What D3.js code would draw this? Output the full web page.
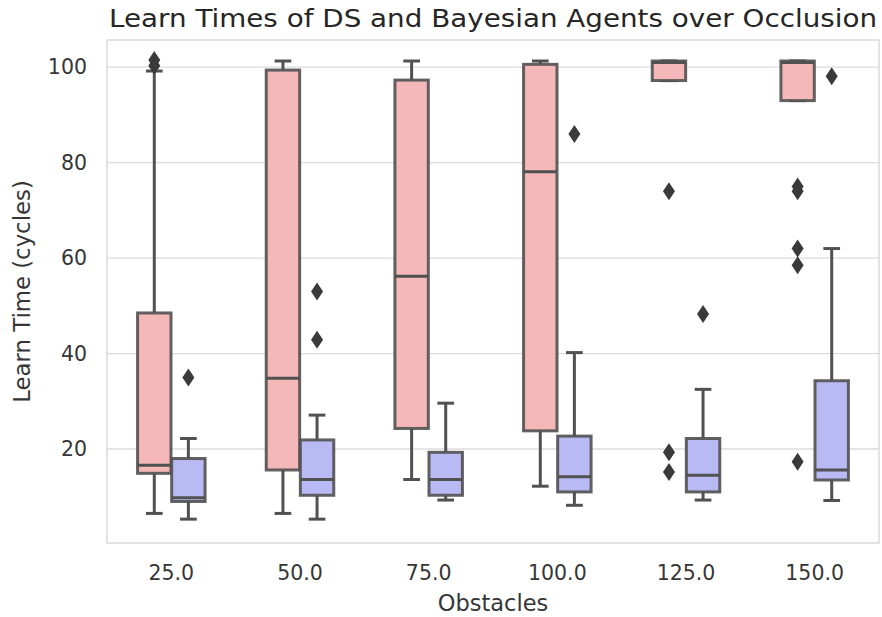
<!DOCTYPE html>
<html>
<head>
<meta charset="utf-8">
<script src="https://cdn.jsdelivr.net/npm/d3@7"></script>
<style>
  body { margin: 0; background: #fff; }
  text { font-family: "DejaVu Sans", sans-serif; }
</style>
</head>
<body>
<svg id="chart" width="882" height="617"></svg>
<script>
// ---- data ----
const categories = ["25.0", "50.0", "75.0", "100.0", "125.0", "150.0"];
const seriesNames = ["DS", "Bayesian"];
const yTicks = [20, 40, 60, 80, 100];

// DS agent
const dsQ1      = [14.9, 15.6, 24.3, 23.8, 97.2, 93.0];
const dsMedian  = [16.6, 34.8, 56.2, 78.1, 101.0, 101.0];
const dsQ3      = [48.5, 99.4, 97.3, 100.6, 101.3, 101.3];
const dsLow     = [6.5, 6.5, 13.6, 12.2, 97.2, 93.0];
const dsHigh    = [99.2, 101.3, 101.3, 101.3, 101.3, 101.3];
const dsOut     = [[100.3, 101.5], [], [], [], [74.0, 19.3, 15.2], [75.0, 74.0, 62.0, 58.5, 17.3]];

// Bayesian agent
const bayQ1     = [9.0, 10.3, 10.3, 11.0, 11.0, 13.5];
const bayMedian = [9.8, 13.6, 13.6, 14.2, 14.5, 15.6];
const bayQ3     = [18.0, 21.9, 19.3, 22.7, 22.2, 34.3];
const bayLow    = [5.3, 5.3, 9.3, 8.2, 9.3, 9.2];
const bayHigh   = [22.2, 27.1, 29.6, 40.2, 32.5, 62.0];
const bayOut    = [[35.0], [53.0, 42.9], [], [86.0], [48.3], [98.1]];

// ---- build table ----
const stats = [
  {q1: dsQ1, med: dsMedian, q3: dsQ3, lo: dsLow, hi: dsHigh, out: dsOut},
  {q1: bayQ1, med: bayMedian, q3: bayQ3, lo: bayLow, hi: bayHigh, out: bayOut}
];
const boxes = [];
seriesNames.forEach((s, si) => {
  categories.forEach((c, ci) => {
    const st = stats[si];
    boxes.push({series: s, cat: c, q1: st.q1[ci], med: st.med[ci], q3: st.q3[ci],
                lo: st.lo[ci], hi: st.hi[ci], out: st.out[ci]});
  });
});

// ---- layout ----
const svg = d3.select("#chart");
const pLeft = 107, pRight = 879, pTop = 40, pBottom = 543;
const fills = {DS: "#f4b8b8", Bayesian: "#b9b9f4"};
const lineCol = "#515151";
const textCol = "#363636";

const x = d3.scaleBand().domain(categories).range([pLeft, pRight]).padding(0);
const hue = d3.scaleBand().domain(seriesNames).range([-x.bandwidth() * 0.265, x.bandwidth() * 0.265]);
const y = d3.scaleLinear().domain([0.3, 105.7]).range([pBottom, pTop]);

// grid
svg.append("g").selectAll("line").data(yTicks).join("line")
  .attr("x1", pLeft).attr("x2", pRight)
  .attr("y1", d => y(d)).attr("y2", d => y(d))
  .attr("stroke", "#dcdcdc").attr("stroke-width", 1.3);

// frame
svg.append("rect").attr("x", pLeft).attr("y", pTop)
  .attr("width", pRight - pLeft).attr("height", pBottom - pTop)
  .attr("fill", "none").attr("stroke", "#d4d4d4").attr("stroke-width", 1.3);

// axes (tick labels via d3 axes)
const yAxis = svg.append("g").attr("transform", `translate(${pLeft},0)`)
  .call(d3.axisLeft(y).tickValues(yTicks).tickSize(0).tickPadding(20));
yAxis.select(".domain").remove();
yAxis.selectAll("text").attr("font-size", 20.5).attr("fill", textCol)
  .attr("font-family", "DejaVu Sans");

const xAxis = svg.append("g").attr("transform", `translate(0,${pBottom})`)
  .call(d3.axisBottom(x).tickSize(0).tickPadding(22));
xAxis.select(".domain").remove();
xAxis.selectAll("text").attr("font-size", 20.5).attr("fill", textCol)
  .attr("font-family", "DejaVu Sans");

const boxW = hue.bandwidth() * 0.98;
const g = svg.append("g");
boxes.forEach(b => {
  const cx = x(b.cat) + x.bandwidth() / 2 + hue(b.series) + hue.bandwidth() / 2;
  const capW = boxW / 2;
  // whiskers
  g.append("line").attr("x1", cx).attr("x2", cx).attr("y1", y(b.q3)).attr("y2", y(b.hi))
    .attr("stroke", lineCol).attr("stroke-width", 3);
  g.append("line").attr("x1", cx).attr("x2", cx).attr("y1", y(b.q1)).attr("y2", y(b.lo))
    .attr("stroke", lineCol).attr("stroke-width", 3);
  g.append("line").attr("x1", cx - capW / 2).attr("x2", cx + capW / 2).attr("y1", y(b.hi)).attr("y2", y(b.hi))
    .attr("stroke", lineCol).attr("stroke-width", 3);
  g.append("line").attr("x1", cx - capW / 2).attr("x2", cx + capW / 2).attr("y1", y(b.lo)).attr("y2", y(b.lo))
    .attr("stroke", lineCol).attr("stroke-width", 3);
  // box
  g.append("rect").attr("x", cx - boxW / 2).attr("width", boxW)
    .attr("y", y(b.q3)).attr("height", Math.max(0, y(b.q1) - y(b.q3)))
    .attr("fill", fills[b.series]).attr("stroke", lineCol).attr("stroke-width", 3)
    .attr("stroke-opacity", 0.9);
  // median
  g.append("line").attr("x1", cx - boxW / 2).attr("x2", cx + boxW / 2)
    .attr("y1", y(b.med)).attr("y2", y(b.med))
    .attr("stroke", lineCol).attr("stroke-width", 3);
  // outliers (thin diamonds)
  b.out.forEach(v => {
    const py = y(v);
    g.append("path")
      .attr("d", `M${cx},${py - 9}L${cx + 6},${py}L${cx},${py + 9}L${cx - 6},${py}Z`)
      .attr("fill", "#3a3a3a");
  });
});

// labels
svg.append("text").attr("x", (pLeft + pRight) / 2).attr("y", 27)
  .attr("text-anchor", "middle").attr("font-size", 24.5).attr("fill", "#262626")
  .attr("textLength", 768).attr("lengthAdjust", "spacingAndGlyphs")
  .text("Learn Times of DS and Bayesian Agents over Occlusion");

svg.append("text").attr("x", 493).attr("y", 611)
  .attr("text-anchor", "middle").attr("font-size", 22.5).attr("fill", textCol)
  .text("Obstacles");

svg.append("text").attr("transform", `translate(30,${(pTop + pBottom) / 2}) rotate(-90)`)
  .attr("text-anchor", "middle").attr("font-size", 22.8).attr("fill", textCol)
  .text("Learn Time (cycles)");
</script>
</body>
</html>
